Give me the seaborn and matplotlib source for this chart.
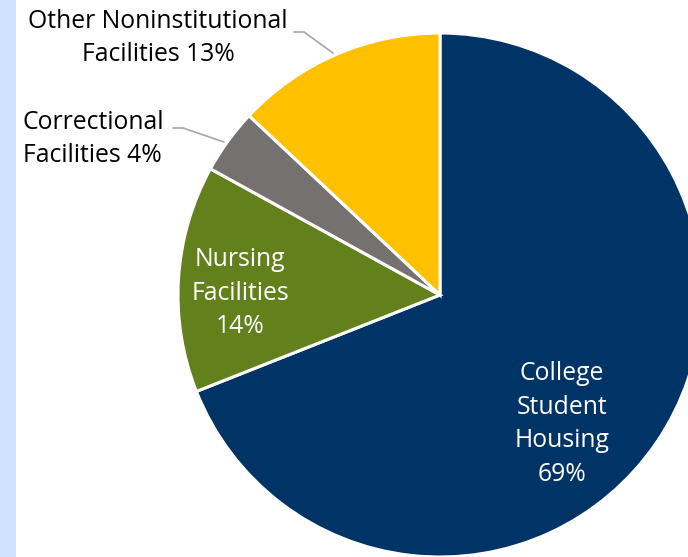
import matplotlib
matplotlib.use("Agg")
import matplotlib.pyplot as plt
import seaborn as sns
from matplotlib.patches import Rectangle

# data, clockwise from 12 o'clock
categories = ["College Student Housing", "Nursing Facilities",
              "Correctional Facilities", "Other Noninstitutional Facilities"]
shares = [69, 14, 4, 13]
slice_colors = ["#003366", "#62801c", "#767171", "#ffc000"]

sns.set_theme(style="white")
plt.rcParams["font.family"] = ["Open Sans", "DejaVu Sans"]

fig = plt.figure(figsize=(6.88, 5.57), dpi=100)
fig.patch.set_facecolor("white")
fig.patches.append(Rectangle((0, 0), 16 / 688, 1, transform=fig.transFigure,
                             facecolor="#cfe2ff", edgecolor="none", zorder=0))

ax = fig.add_axes([0, 0, 1, 1])
ax.set_axis_off()

wedges, _ = ax.pie(shares, colors=slice_colors, startangle=90, counterclock=False,
                   radius=1.0, wedgeprops=dict(edgecolor="white", linewidth=2.2))

# pixel-based window: centre at (440, 295) px, radius 262 px
ax.set_xlim(-440 / 262, (688 - 440) / 262)
ax.set_ylim(-(557 - 295) / 262, 295 / 262)
ax.set_aspect("auto")

def px(x, y):
    return (x - 440) / 262, (295 - y) / 262

fs = 17.8
ls = 1.46
ax.text(*px(562, 424), "College\nStudent\nHousing\n69%", color="white",
        ha="center", va="center", fontsize=fs, linespacing=ls)
ax.text(*px(240, 293), "Nursing\nFacilities\n14%", color="white",
        ha="center", va="center", fontsize=fs, linespacing=ls)
ax.text(*px(158, 38), "Other Noninstitutional\nFacilities 13%", color="black",
        ha="center", va="center", fontsize=fs, linespacing=ls)
ax.text(*px(23, 139), "Correctional\nFacilities 4%", color="black",
        ha="left", va="center", fontsize=fs, linespacing=ls)

# leader lines
lc = "#a6a6a6"
x1, y1 = zip(px(294, 32), px(304, 32), px(333, 53))
ax.plot(x1, y1, color=lc, lw=1.2)
x2, y2 = zip(px(173, 128), px(183, 128), px(224, 142))
ax.plot(x2, y2, color=lc, lw=1.2)

fig.savefig("out.png", dpi=100)
